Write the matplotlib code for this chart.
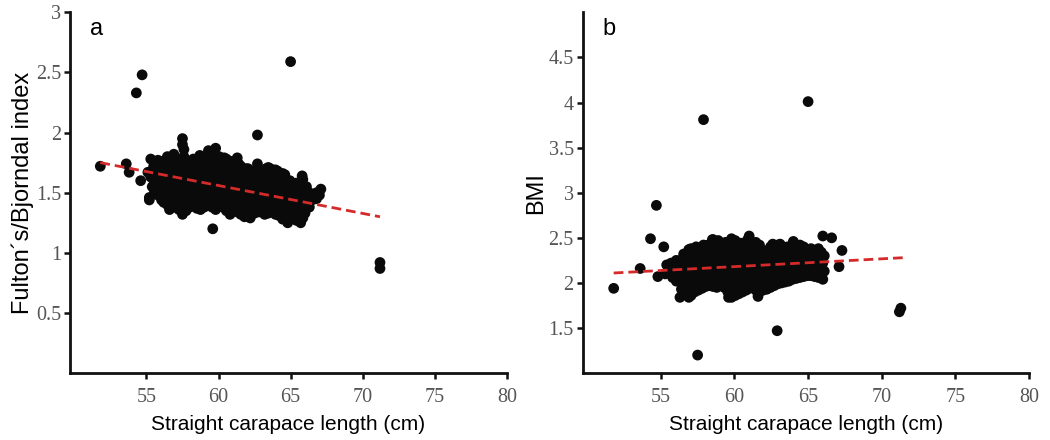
import matplotlib
matplotlib.use("Agg")
import matplotlib.pyplot as plt

# panel a: straight carapace length (cm) vs Fulton's/Bjorndal index
scl_a = [
    55.2, 55.4, 55.3, 55.5, 55.3,
    55.8, 55.9, 55.7, 55.9, 55.8,
    56.2, 56.4, 56.3, 56.2, 56.4,
    56.6, 56.7, 56.6, 56.8, 56.6, 56.8, 56.9,
    57.1, 57.0, 57.2, 57.0, 57.1, 57.2,
    57.5, 57.6, 57.4, 57.6, 57.5, 57.4, 57.6, 57.6, 57.5, 57.5,
    58.0, 58.1, 57.9, 58.1, 58.0, 58.2,
    58.5, 58.6, 58.4, 58.6, 58.5, 58.4, 58.7,
    59.0, 59.1, 58.9, 59.1, 59.0, 59.1,
    59.4, 59.3, 59.5, 59.3, 59.4, 59.3,
    59.8, 59.9, 59.7, 59.9, 59.8, 59.9, 59.8,
    60.3, 60.4, 60.2, 60.4, 60.3, 60.4,
    60.8, 60.9, 60.7, 60.9, 60.8, 60.7, 60.9,
    61.3, 61.4, 61.2, 61.4, 61.3, 61.4, 61.3,
    61.8, 61.9, 61.7, 61.9, 61.8, 61.9,
    62.2, 62.4, 62.3, 62.2, 62.4, 62.3,
    62.8, 62.7, 62.9, 62.7, 62.8, 62.7,
    63.2, 63.3, 63.1, 63.3, 63.2, 63.3,
    63.7, 63.8, 63.6, 63.8, 63.7, 63.6,
    64.2, 64.3, 64.1, 64.3, 64.2, 64.1,
    64.8, 64.7, 64.9, 64.7, 64.8, 64.6,
    65.2, 65.3, 65.1, 65.3,
    65.7, 65.6, 65.7, 65.5, 65.7, 65.8,
    66.0, 66.1, 66.0, 66.1,
    66.5, 66.6,
    67.0, 67.1,
    55.55, 55.55, 55.55, 55.55,
    56.05, 56.05, 56.05, 56.05, 56.05,
    56.45, 56.45, 56.45, 56.45, 56.45, 56.45,
    56.85, 56.85, 56.85, 56.85, 56.85, 56.85,
    57.25, 57.25, 57.25, 57.25, 57.25, 57.25,
    57.75, 57.75, 57.75, 57.75, 57.75, 57.75,
    58.25, 58.25, 58.25, 58.25, 58.25, 58.25,
    58.75, 58.75, 58.75, 58.75, 58.75, 58.75, 58.75,
    59.15, 59.15, 59.15, 59.15, 59.15, 59.15,
    59.55, 59.55, 59.55, 59.55, 59.55, 59.55, 59.55,
    60.05, 60.05, 60.05, 60.05, 60.05, 60.05,
    60.55, 60.55, 60.55, 60.55, 60.55, 60.55, 60.55,
    61.05, 61.05, 61.05, 61.05, 61.05, 61.05,
    61.55, 61.55, 61.55, 61.55, 61.55, 61.55,
    62.05, 62.05, 62.05, 62.05, 62.05, 62.05,
    62.5, 62.5, 62.5, 62.5, 62.5,
    62.95, 62.95, 62.95, 62.95, 62.95,
    63.45, 63.45, 63.45, 63.45, 63.45, 63.45,
    63.95, 63.95, 63.95, 63.95, 63.95, 63.95,
    64.45, 64.45, 64.45, 64.45, 64.45, 64.45,
    64.95, 64.95, 64.95, 64.95, 64.95,
    65.4, 65.4, 65.4, 65.4, 65.4,
    65.85, 65.85, 65.85, 65.85, 65.85,
    66.3, 66.3, 66.3,
    66.8, 66.8,
    51.8, 53.6, 53.8, 54.6, 54.3, 54.7, 65.0, 62.7, 59.6, 71.2, 71.2, 55.2, 55.1,
]
fulton_a = [
    1.46, 1.55, 1.63, 1.72, 1.78,
    1.48, 1.56, 1.62, 1.70, 1.77,
    1.42, 1.50, 1.58, 1.66, 1.74,
    1.36, 1.45, 1.53, 1.61, 1.69, 1.77, 1.82,
    1.40, 1.48, 1.56, 1.64, 1.72, 1.78,
    1.32, 1.40, 1.49, 1.57, 1.65, 1.73, 1.80, 1.86, 1.90, 1.95,
    1.38, 1.46, 1.54, 1.62, 1.70, 1.75,
    1.37, 1.45, 1.52, 1.60, 1.68, 1.76, 1.81,
    1.38, 1.45, 1.53, 1.61, 1.69, 1.77,
    1.42, 1.50, 1.58, 1.66, 1.74, 1.85,
    1.36, 1.44, 1.52, 1.60, 1.68, 1.76, 1.87,
    1.38, 1.46, 1.54, 1.62, 1.70, 1.79,
    1.32, 1.40, 1.48, 1.56, 1.64, 1.72, 1.76,
    1.34, 1.42, 1.50, 1.58, 1.66, 1.74, 1.79,
    1.30, 1.38, 1.46, 1.54, 1.62, 1.70,
    1.29, 1.37, 1.45, 1.53, 1.61, 1.68,
    1.34, 1.42, 1.50, 1.58, 1.66, 1.74,
    1.32, 1.40, 1.48, 1.56, 1.64, 1.70,
    1.35, 1.43, 1.51, 1.59, 1.66, 1.70,
    1.31, 1.39, 1.47, 1.55, 1.62, 1.68,
    1.25, 1.33, 1.41, 1.49, 1.57, 1.65,
    1.30, 1.38, 1.46, 1.54,
    1.25, 1.33, 1.42, 1.50, 1.58, 1.64,
    1.33, 1.42, 1.50, 1.55,
    1.44, 1.48,
    1.48, 1.53,
    1.50, 1.59, 1.67, 1.75,
    1.44, 1.52, 1.60, 1.68, 1.76,
    1.40, 1.49, 1.57, 1.65, 1.73, 1.80,
    1.38, 1.44, 1.52, 1.60, 1.68, 1.75,
    1.36, 1.44, 1.52, 1.60, 1.68, 1.76,
    1.35, 1.42, 1.50, 1.58, 1.66, 1.74,
    1.40, 1.48, 1.56, 1.64, 1.72, 1.78,
    1.36, 1.42, 1.50, 1.57, 1.65, 1.73, 1.80,
    1.40, 1.48, 1.56, 1.64, 1.72, 1.80,
    1.38, 1.46, 1.54, 1.62, 1.70, 1.78, 1.84,
    1.40, 1.48, 1.56, 1.64, 1.72, 1.80,
    1.35, 1.42, 1.50, 1.58, 1.66, 1.74, 1.78,
    1.36, 1.44, 1.52, 1.60, 1.68, 1.76,
    1.32, 1.40, 1.48, 1.56, 1.64, 1.72,
    1.32, 1.40, 1.48, 1.56, 1.64, 1.70,
    1.33, 1.41, 1.49, 1.57, 1.65,
    1.36, 1.44, 1.52, 1.60, 1.68,
    1.33, 1.41, 1.49, 1.57, 1.65, 1.71,
    1.32, 1.40, 1.48, 1.56, 1.64, 1.69,
    1.28, 1.36, 1.44, 1.52, 1.60, 1.66,
    1.28, 1.36, 1.44, 1.52, 1.60,
    1.27, 1.35, 1.43, 1.51, 1.58,
    1.29, 1.38, 1.46, 1.53, 1.61,
    1.38, 1.46, 1.50,
    1.45, 1.50,
    1.72, 1.74, 1.67, 1.60, 2.33, 2.48, 2.59, 1.98, 1.20, 0.92, 0.87, 1.44, 1.67,
]

# panel b: straight carapace length (cm) vs BMI
scl_b = [
    55.3, 55.4,
    55.8, 55.9, 55.7,
    56.3, 56.4, 56.2, 56.4, 56.3, 56.5,
    56.9, 56.8, 56.7, 56.9, 56.8, 56.7, 56.9,
    57.3, 57.4, 57.2, 57.4, 57.3, 57.2, 57.4,
    57.8, 57.9, 57.7, 57.9, 57.8, 57.7, 57.9,
    58.3, 58.4, 58.2, 58.4, 58.3, 58.2, 58.5,
    58.8, 58.9, 58.7, 58.9, 58.8, 58.7, 58.9,
    59.3, 59.4, 59.2, 59.4, 59.3, 59.2, 59.4,
    59.8, 59.9, 59.7, 59.9, 59.8, 59.7, 59.9, 59.8,
    60.3, 60.4, 60.2, 60.4, 60.3, 60.2, 60.4,
    60.8, 60.9, 60.7, 60.9, 60.8, 60.7, 60.9,
    61.2, 61.3, 61.1, 61.3, 61.2, 61.1, 61.0,
    61.7, 61.8, 61.6, 61.8, 61.7, 61.6, 61.7,
    62.2, 62.3, 62.1, 62.3, 62.2, 62.1,
    62.7, 62.8, 62.6, 62.8, 62.7, 62.6,
    63.2, 63.3, 63.1, 63.3, 63.2, 63.1,
    63.7, 63.8, 63.6, 63.8, 63.7, 63.6,
    64.2, 64.3, 64.1, 64.3, 64.2, 64.0,
    64.7, 64.8, 64.6, 64.8, 64.7,
    65.2, 65.3, 65.1, 65.3, 65.2,
    65.7, 65.8, 65.6, 65.8, 65.7,
    66.0, 66.1, 66.0, 66.1,
    55.55, 55.55,
    56.05, 56.05, 56.05, 56.05,
    56.55, 56.55, 56.55, 56.55, 56.55, 56.55,
    57.05, 57.05, 57.05, 57.05, 57.05, 57.05, 57.05,
    57.55, 57.55, 57.55, 57.55, 57.55, 57.55,
    58.05, 58.05, 58.05, 58.05, 58.05, 58.05,
    58.55, 58.55, 58.55, 58.55, 58.55, 58.55, 58.55,
    59.05, 59.05, 59.05, 59.05, 59.05, 59.05,
    59.55, 59.55, 59.55, 59.55, 59.55, 59.55, 59.55,
    60.05, 60.05, 60.05, 60.05, 60.05, 60.05, 60.05, 60.05,
    60.55, 60.55, 60.55, 60.55, 60.55, 60.55, 60.55,
    61.0, 61.0, 61.0, 61.0, 61.0, 61.0, 61.0,
    61.45, 61.45, 61.45, 61.45, 61.45, 61.45, 61.45,
    61.95, 61.95, 61.95, 61.95, 61.95, 61.95,
    62.45, 62.45, 62.45, 62.45, 62.45, 62.45,
    62.95, 62.95, 62.95, 62.95, 62.95, 62.95,
    63.45, 63.45, 63.45, 63.45, 63.45,
    63.95, 63.95, 63.95, 63.95, 63.95,
    64.45, 64.45, 64.45, 64.45, 64.45,
    64.95, 64.95, 64.95, 64.95,
    65.45, 65.45, 65.45, 65.45,
    65.9, 65.9, 65.9, 65.9,
    51.8, 53.6, 54.3, 54.7, 54.8, 55.2, 57.9, 65.0, 57.5, 62.9, 71.2, 71.3,
    66.0, 66.6, 67.3, 67.1, 61.6, 59.6,
]
bmi_b = [
    2.10, 2.20,
    2.06, 2.14, 2.22,
    1.84, 1.93, 2.02, 2.10, 2.19, 2.27,
    1.84, 1.93, 2.02, 2.11, 2.20, 2.29, 2.37,
    1.90, 1.99, 2.08, 2.17, 2.26, 2.35, 2.40,
    1.94, 2.03, 2.12, 2.21, 2.30, 2.38, 2.42,
    1.97, 2.06, 2.15, 2.24, 2.33, 2.42, 2.48,
    1.95, 2.04, 2.13, 2.22, 2.31, 2.40, 2.47,
    1.95, 2.04, 2.13, 2.22, 2.31, 2.39, 2.45,
    1.84, 1.93, 2.02, 2.11, 2.20, 2.29, 2.38, 2.49,
    1.88, 1.97, 2.06, 2.15, 2.24, 2.33, 2.44,
    1.92, 2.01, 2.10, 2.19, 2.28, 2.37, 2.48,
    1.95, 2.04, 2.13, 2.22, 2.31, 2.40, 2.52,
    1.90, 1.99, 2.08, 2.17, 2.26, 2.35, 2.42,
    1.93, 2.02, 2.11, 2.20, 2.29, 2.35,
    1.97, 2.06, 2.15, 2.24, 2.33, 2.43,
    2.00, 2.09, 2.18, 2.27, 2.36, 2.43,
    2.02, 2.11, 2.20, 2.29, 2.38, 2.40,
    2.05, 2.14, 2.23, 2.32, 2.41, 2.46,
    2.07, 2.16, 2.25, 2.34, 2.40,
    2.08, 2.17, 2.26, 2.35, 2.38,
    2.06, 2.15, 2.24, 2.33, 2.38,
    2.04, 2.13, 2.22, 2.30,
    2.12, 2.20,
    2.02, 2.10, 2.18, 2.25,
    1.88, 1.97, 2.06, 2.15, 2.24, 2.32,
    1.86, 1.95, 2.04, 2.13, 2.22, 2.31, 2.38,
    1.92, 2.01, 2.10, 2.19, 2.28, 2.37,
    1.96, 2.05, 2.14, 2.23, 2.32, 2.40,
    1.96, 2.05, 2.14, 2.23, 2.32, 2.41, 2.48,
    1.98, 2.07, 2.16, 2.25, 2.34, 2.42,
    1.90, 1.99, 2.08, 2.17, 2.26, 2.35, 2.44,
    1.86, 1.95, 2.04, 2.13, 2.22, 2.31, 2.40, 2.47,
    1.90, 1.99, 2.08, 2.17, 2.26, 2.35, 2.44,
    1.94, 2.03, 2.12, 2.21, 2.30, 2.39, 2.47,
    1.92, 2.01, 2.10, 2.19, 2.28, 2.37, 2.45,
    1.92, 2.01, 2.10, 2.19, 2.28, 2.36,
    1.95, 2.04, 2.13, 2.22, 2.31, 2.40,
    1.99, 2.08, 2.17, 2.26, 2.35, 2.42,
    2.01, 2.10, 2.19, 2.28, 2.37,
    2.04, 2.13, 2.22, 2.31, 2.40,
    2.06, 2.15, 2.24, 2.33, 2.42,
    2.08, 2.17, 2.26, 2.35,
    2.07, 2.16, 2.25, 2.34,
    2.08, 2.17, 2.26, 2.34,
    1.94, 2.16, 2.49, 2.86, 2.07, 2.40, 3.81, 4.01, 1.20, 1.47, 1.68, 1.72,
    2.52, 2.50, 2.36, 2.18, 1.85, 1.84,
]

# fitted trend lines (end points)
fit_a_x = [51.8, 71.2]
fit_a_y = [1.75, 1.30]
fit_b_x = [51.8, 71.5]
fit_b_y = [2.11, 2.28]

x_ticks = [55, 60, 65, 70, 75, 80]
y_ticks_a = [0.5, 1, 1.5, 2, 2.5, 3]
y_ticks_b = [1.5, 2, 2.5, 3, 3.5, 4, 4.5]

SANS = "Liberation Sans"
SERIF = "Liberation Serif"


def style_axes(ax, yticks, ylim, ylabel, letter):
    for side in ("top", "right"):
        ax.spines[side].set_visible(False)
    for side in ("left", "bottom"):
        ax.spines[side].set_linewidth(2)
        ax.spines[side].set_color("#111111")
    ax.set_xlim(49.7, 80)
    ax.set_ylim(*ylim)
    ax.set_xticks(x_ticks)
    ax.set_yticks(yticks)
    ax.set_xticklabels([f"{t:g}" for t in x_ticks])
    ax.set_yticklabels([f"{t:g}" for t in yticks])
    ax.tick_params(direction="out", length=4.5, width=1.8, color="#111111",
                   labelcolor="#555555", labelsize=14.5)
    ax.tick_params(axis="x", pad=6)
    ax.tick_params(axis="y", pad=2)
    for lab in ax.get_xticklabels() + ax.get_yticklabels():
        lab.set_fontfamily(SERIF)
    ax.set_xlabel("Straight carapace length (cm)", fontfamily=SANS,
                  fontsize=15, labelpad=6)
    ax.set_ylabel(ylabel, fontfamily=SANS, fontsize=17, labelpad=1)
    ax.text(0.045, 0.985, letter, transform=ax.transAxes, fontfamily=SANS,
            fontsize=17, va="top", ha="left")


fig = plt.figure(figsize=(10.5, 4.4), dpi=100)
ax_a = fig.add_axes([0.0667, 0.152, 0.416, 0.82])
ax_b = fig.add_axes([0.555, 0.152, 0.425, 0.82])

ax_a.scatter(scl_a, fulton_a, s=60, color="#0a0a0a", edgecolors="none", zorder=2)
ax_a.plot(fit_a_x, fit_a_y, color="#d42a2a", lw=2, ls=(0, (3.5, 1.8)), zorder=3)
style_axes(ax_a, y_ticks_a, (0, 3), "Fulton\u00b4s/Bjorndal index", "a")

ax_b.scatter(scl_b, bmi_b, s=60, color="#0a0a0a", edgecolors="none", zorder=2)
ax_b.plot(fit_b_x, fit_b_y, color="#d42a2a", lw=2, ls=(0, (3.5, 1.8)), zorder=3)
style_axes(ax_b, y_ticks_b, (1, 5), "BMI", "b")

fig.savefig("out.png", dpi=100)
